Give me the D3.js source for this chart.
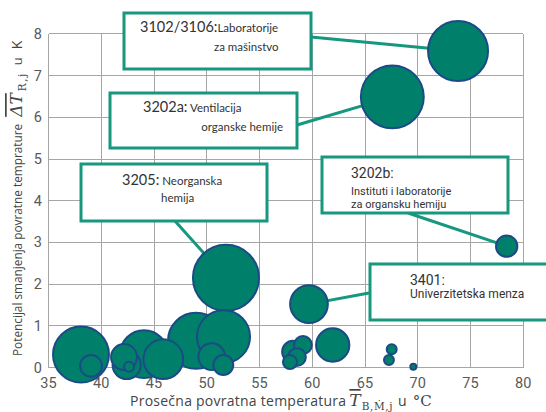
<!DOCTYPE html>
<html><head><meta charset="utf-8">
<script src="https://cdn.jsdelivr.net/npm/d3@7"></script>
<style>body{margin:0;background:#fff} svg{display:block}</style>
</head><body>
<svg id="c" width="546" height="412"></svg>
<script>
// ---- data ----
const temps = [38.08, 39.03, 42.16, 42.41, 42.63, 44.05, 45.88, 48.98, 51.59, 50.47, 51.57, 51.82, 59.69, 58.18, 59.12, 57.89, 58.55, 61.94, 67.53, 67.27, 69.58, 78.43, 67.59, 73.82];
const drops = [0.31, 0.04, 0.25, 0.06, 0.02, 0.32, 0.20, 0.64, 0.74, 0.26, 0.06, 2.15, 1.52, 0.38, 0.54, 0.13, 0.25, 0.54, 0.44, 0.18, 0.02, 2.91, 6.49, 7.59];
const sizes = [79, 12, 17, 20, 2.5, 58, 40, 79, 71, 18, 10, 110, 36, 12, 8, 5, 8, 28, 2.5, 2.5, 0.9, 11.5, 100, 91];
const xTickVals = [35, 40, 45, 50, 55, 60, 65, 70, 75, 80];
const yTickVals = [0, 1, 2, 3, 4, 5, 6, 7, 8];
const annoIds = ["3102/3106:", "3202a:", "3205:", "3202b:", "3401:"];
const annoText = [["Laboratorije", "za mašinstvo"], ["Ventilacija", "organske hemije"], ["Neorganska", "hemija"], ["Instituti i laboratorije", "za organsku hemiju"], ["Univerzitetska menza"]];
const annoBubble = [23, 22, 11, 21, 12];

// ---- layout ----
const svg = d3.select("#c");
const x = d3.scaleLinear().domain([35, 80]).range([48.5, 523.25]);
const y = d3.scaleLinear().domain([0, 8]).range([367.5, 33.9]);
const r = d3.scaleSqrt().domain([0, 110]).range([0, 33]);
const gridCol = "#a6a6a6", teal = "#00806b", boxCol = "#17977e", edge = "#1b4a85";

// grid
svg.append("g").selectAll("line.v").data(xTickVals).join("line")
  .attr("x1", d => x(d)).attr("x2", d => x(d)).attr("y1", y(0)).attr("y2", y(8))
  .attr("stroke", gridCol).attr("stroke-width", 1).attr("shape-rendering", "crispEdges");
svg.append("g").selectAll("line.h").data(yTickVals).join("line")
  .attr("x1", x(35)).attr("x2", x(80)).attr("y1", d => y(d)).attr("y2", d => y(d))
  .attr("stroke", gridCol).attr("stroke-width", 1).attr("shape-rendering", "crispEdges");

// tick labels
svg.append("g").selectAll("text").data(xTickVals).join("text")
  .attr("x", d => x(d)).attr("y", 388).attr("text-anchor", "middle")
  .attr("font-family", "Roboto, sans-serif").attr("font-size", 14.5).attr("fill", "#5a5a5a")
  .text(d => d);
svg.append("g").selectAll("text").data(yTickVals).join("text")
  .attr("x", 42).attr("y", d => y(d) + 5).attr("text-anchor", "end")
  .attr("font-family", "Roboto, sans-serif").attr("font-size", 14.5).attr("fill", "#5a5a5a")
  .text(d => d);

// axis titles
const xt = svg.append("text").attr("x", 130).attr("y", 406)
  .attr("font-family", "'Open Sans', sans-serif").attr("font-size", 14).attr("fill", "#444");
xt.append("tspan").attr("letter-spacing", 0.25).text("Prosečna povratna temperatura");
xt.append("tspan").attr("dx", 3).attr("font-family", "DejaVu Serif, serif").attr("font-style", "italic").attr("font-size", 17)
  .style("text-decoration", "overline").text("T");
xt.append("tspan").attr("dx", 1).attr("font-family", "DejaVu Serif, serif").attr("font-size", 10.5).attr("dy", 4).attr("letter-spacing", 0.6).text("B,Ṁ,j");
xt.append("tspan").attr("dy", -4).attr("dx", 5).text("u");
xt.append("tspan").attr("dx", 6).attr("font-family", "DejaVu Serif, serif").attr("font-size", 15).text("°C");

const yt = svg.append("text").attr("transform", "translate(22,356) rotate(-90)")
  .attr("font-family", "'Open Sans', sans-serif").attr("font-size", 11.8).attr("fill", "#444");
yt.append("tspan").text("Potencijal smanjenja povratne temprature");
yt.append("tspan").attr("dx", 7).attr("font-family", "DejaVu Serif, serif").attr("font-style", "italic").attr("font-size", 17)
  .style("text-decoration", "overline").text("ΔT");
yt.append("tspan").attr("dx", 2).attr("font-family", "DejaVu Serif, serif").attr("font-size", 10.5).attr("dy", 4).attr("letter-spacing", 1.5).text("R,j");
yt.append("tspan").attr("dy", -4).attr("dx", 7).attr("font-size", 13).text("u");
yt.append("tspan").attr("dx", 8).attr("font-size", 14).text("K");

// annotation boxes (layout)
const boxes = [
  {x: 124, y: 13, w: 187, h: 56, ax: 311, ay: 37},
  {x: 110, y: 93, w: 187, h: 55, ax: 297, ay: 125},
  {x: 81, y: 164, w: 186, h: 57, ax: 175, ay: 221},
  {x: 322, y: 157, w: 186, h: 56, ax: 408, ay: 213},
  {x: 370, y: 264, w: 200, h: 56, ax: 369, ay: 293}
];

// connectors
svg.append("g").selectAll("line").data(boxes).join("line")
  .attr("x1", d => d.ax).attr("y1", d => d.ay)
  .attr("x2", (d, i) => x(temps[annoBubble[i]])).attr("y2", (d, i) => y(drops[annoBubble[i]]))
  .attr("stroke", boxCol).attr("stroke-width", 3);

// bubbles
const idx = d3.range(temps.length).sort((a, b) => sizes[b] - sizes[a]);
svg.append("g").selectAll("circle").data(idx).join("circle")
  .attr("cx", i => x(temps[i])).attr("cy", i => y(drops[i])).attr("r", i => r(sizes[i]))
  .attr("fill", teal).attr("stroke", edge).attr("stroke-width", 2);

// boxes
svg.append("g").selectAll("rect").data(boxes).join("rect")
  .attr("x", d => d.x).attr("y", d => d.y).attr("width", d => d.w).attr("height", d => d.h)
  .attr("fill", "#fff").attr("stroke", boxCol).attr("stroke-width", 3);

// box texts
const lato = "Lato, 'Open Sans', sans-serif", rob = "Roboto, sans-serif", tc = "#333";
function t(px, py, size, fam, anchor) {
  return svg.append("text").attr("x", px).attr("y", py).attr("font-size", size)
    .attr("font-family", fam).attr("fill", tc).attr("text-anchor", anchor || "start");
}
let a = t(140, 32, 14.5, lato); a.append("tspan").text(annoIds[0]); a.append("tspan").attr("font-size", 11.5).text(annoText[0][0]);
t(214, 51, 11.5, lato).text(annoText[0][1]);
a = t(143, 112, 14.5, lato); a.append("tspan").text(annoIds[1]); a.append("tspan").attr("font-size", 11.5).text(" " + annoText[1][0]);
t(283, 131, 11.5, lato, "end").text(annoText[1][1]);
a = t(122, 185, 14.5, lato); a.append("tspan").text(annoIds[2]); a.append("tspan").attr("font-size", 11.5).text(" " + annoText[2][0]);
t(161, 202, 11.5, lato).text(annoText[2][1]);
t(351, 178, 14, rob).text(annoIds[3]);
t(351, 195, 11, rob).text(annoText[3][0]);
t(351, 208, 11, rob).text(annoText[3][1]);
t(410, 285, 14, rob).text(annoIds[4]);
t(410, 298, 12, rob).text(annoText[4][0]);
</script>
</body></html>
